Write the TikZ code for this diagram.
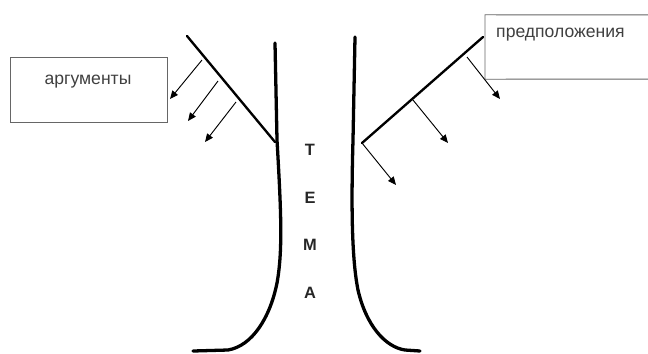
\documentclass[tikz,border=0pt]{standalone}
\usepackage{fontspec}
\setmainfont{Liberation Sans}
\usetikzlibrary{arrows.meta,positioning,calc}
\tikzset{
  labelbox/.style={draw=black!60, line width=0.8pt, inner sep=0pt},
  boxline/.style={draw=black!60, line width=0.8pt},
  labeltext/.style={text=black!75, font=\fontsize{15}{18}\selectfont, inner sep=0pt},
  letter/.style={text=black!85, font=\fontsize{14}{17}\selectfont\bfseries, inner sep=0pt},
  trunk/.style={line width=2.8pt, line cap=round},
  branch/.style={line width=2pt, line cap=round},
  twig/.style={-{Triangle[length=7pt,width=6pt]}, line width=0.8pt}
}

\begin{document}
\begin{tikzpicture}[x=0.03cm, y=-0.03cm]
\useasboundingbox (0,0) rectangle (648,353);
\clip (0,0) rectangle (648,353);
\fill[white] (0,0) rectangle (648,353);

% boxes
\node[labelbox, minimum width=4.71cm, minimum height=1.95cm] (argbox) at (88.5,89.5) {};
\node[labeltext] (argtext) at (88,82) {аргументы};
\coordinate (predtr) at (700,15);
\coordinate (predbr) at (700,79);
\node[inner sep=0pt, minimum width=0pt, minimum height=1.92cm] (predbox) at (485,47) {};
\draw[boxline] (predtr) -- (predbox.north) -- (predbox.south) -- (predbr);
\node[labeltext, anchor=west] (predtext) at (496,35) {предположения};

% trunk
\draw[trunk] (275,43) -- (277,140) .. controls (281,210) and (283,250) .. (277,283)
  .. controls (270,318) and (252,346) .. (228,350) -- (193,351);
\draw[trunk] (355,37) -- (353,140) .. controls (351,210) and (352,260) .. (358,290)
  .. controls (366,325) and (385,347) .. (405,350) -- (420,351);

% branches
\coordinate (lb0) at (187,36);
\coordinate (lb1) at (275,142);
\coordinate (rb0) at (362,143);
\coordinate (rb1) at (483,37);
\draw[branch] (lb0) -- (lb1);
\draw[branch] (rb0) -- (rb1);

% left twigs
\coordinate (la) at (202,60);
\coordinate (lb) at (218,81);
\coordinate (lc) at (236,102);
\coordinate (lae) at (170,99);
\coordinate (lbe) at (188,121);
\coordinate (lce) at (205,142);
\draw[twig] (la) -- (lae);
\draw[twig] (lb) -- (lbe);
\draw[twig] (lc) -- (lce);

% right twigs
\coordinate (ra) at (467,57);
\coordinate (rb) at (413,100);
\coordinate (rae) at (500,99);
\coordinate (rbe) at (448,143);
\coordinate (rce) at (396,185);
\draw[twig] (ra) -- (rae);
\draw[twig] (rb) -- (rbe);
\draw[twig] (rb0) -- (rce);

% letters
\node[letter] (t1) at (310,150) {Т};
\node[letter] (t2) at (310,198) {Е};
\node[letter] (t3) at (310,245) {М};
\node[letter] (t4) at (310,293) {А};
\end{tikzpicture}
\end{document}
